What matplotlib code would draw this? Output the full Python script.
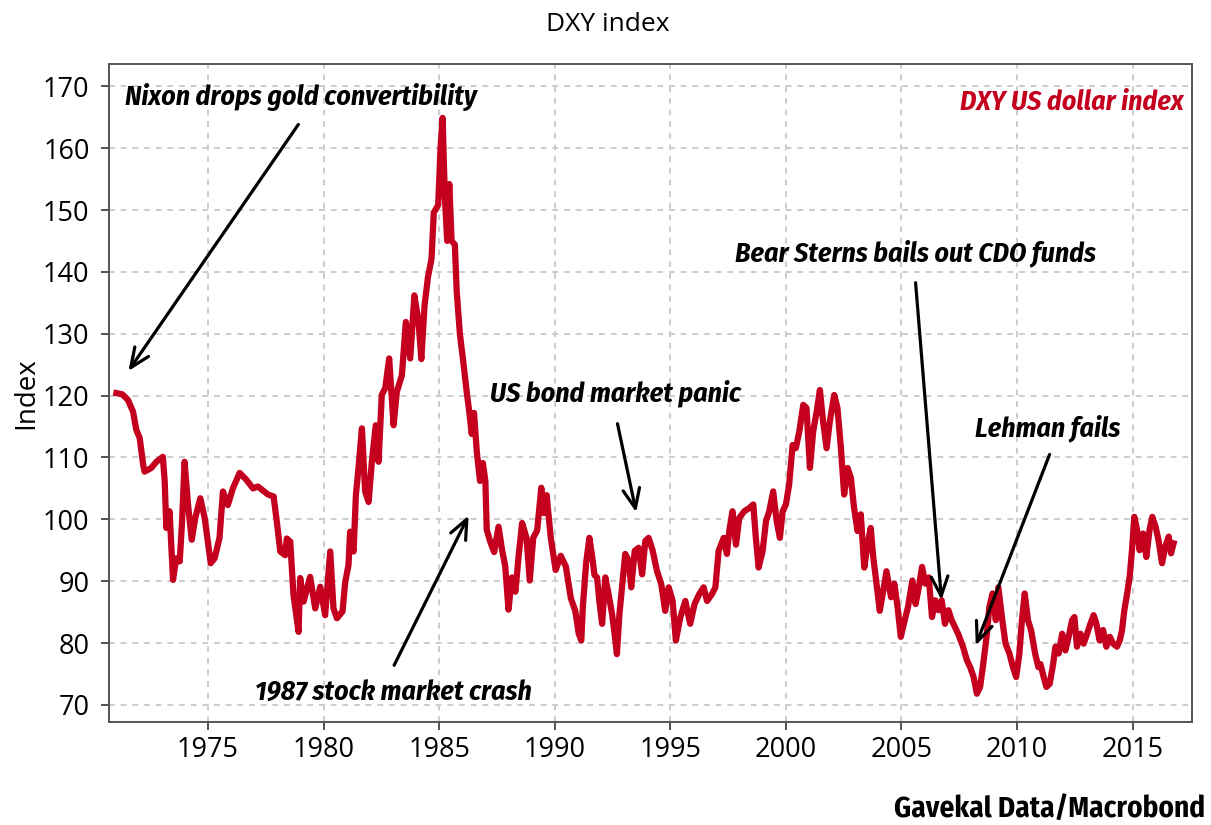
import matplotlib
matplotlib.use('Agg')
from matplotlib import pyplot as plt

# DXY US dollar index
years = [
    1971.04, 1971.30, 1971.54, 1971.76, 1971.90, 1972.05, 1972.20, 1972.26, 1972.55, 1972.77,
    1973.05, 1973.13, 1973.20, 1973.34, 1973.49, 1973.63, 1973.78, 1973.88, 1973.99, 1974.14,
    1974.30, 1974.45, 1974.67, 1974.86, 1975.12, 1975.29, 1975.50, 1975.65, 1975.86, 1976.08,
    1976.37, 1976.66, 1976.95, 1977.16, 1977.60, 1977.84, 1977.98, 1978.13, 1978.34, 1978.41,
    1978.56, 1978.70, 1978.92, 1978.99, 1979.14, 1979.42, 1979.64, 1979.86, 1980.07, 1980.29,
    1980.43, 1980.58, 1980.82, 1980.94, 1981.08, 1981.15, 1981.30, 1981.40, 1981.51, 1981.66,
    1981.80, 1981.95, 1982.09, 1982.26, 1982.38, 1982.52, 1982.67, 1982.84, 1983.03, 1983.17,
    1983.39, 1983.56, 1983.75, 1983.93, 1984.11, 1984.23, 1984.37, 1984.52, 1984.67, 1984.77,
    1984.96, 1985.06, 1985.15, 1985.25, 1985.35, 1985.44, 1985.54, 1985.68, 1985.76, 1985.90,
    1986.05, 1986.19, 1986.31, 1986.41, 1986.51, 1986.63, 1986.77, 1986.89, 1987.00, 1987.06,
    1987.21, 1987.38, 1987.57, 1987.72, 1987.86, 1988.00, 1988.15, 1988.30, 1988.44, 1988.59,
    1988.78, 1988.92, 1989.07, 1989.24, 1989.42, 1989.53, 1989.65, 1989.83, 1990.04, 1990.26,
    1990.48, 1990.70, 1990.89, 1991.04, 1991.15, 1991.22, 1991.36, 1991.50, 1991.62, 1991.72,
    1991.83, 1991.93, 1992.05, 1992.19, 1992.33, 1992.48, 1992.59, 1992.69, 1992.80, 1992.91,
    1993.05, 1993.20, 1993.31, 1993.46, 1993.63, 1993.78, 1993.92, 1994.06, 1994.24, 1994.42,
    1994.61, 1994.78, 1994.93, 1995.10, 1995.24, 1995.43, 1995.65, 1995.86, 1996.05, 1996.25,
    1996.44, 1996.59, 1996.80, 1996.95, 1997.09, 1997.31, 1997.45, 1997.55, 1997.69, 1997.84,
    1997.98, 1998.20, 1998.41, 1998.59, 1998.70, 1998.82, 1998.99, 1999.14, 1999.28, 1999.45,
    1999.60, 1999.74, 1999.86, 2000.00, 2000.14, 2000.29, 2000.43, 2000.58, 2000.75, 2000.89,
    2001.04, 2001.18, 2001.33, 2001.47, 2001.61, 2001.76, 2001.90, 2002.09, 2002.23, 2002.38,
    2002.52, 2002.67, 2002.81, 2002.95, 2003.10, 2003.24, 2003.39, 2003.53, 2003.67, 2003.78,
    2003.89, 2004.06, 2004.21, 2004.35, 2004.55, 2004.69, 2004.83, 2004.97, 2005.14, 2005.28,
    2005.47, 2005.61, 2005.75, 2005.89, 2006.03, 2006.18, 2006.32, 2006.46, 2006.60, 2006.74,
    2006.88, 2007.03, 2007.17, 2007.31, 2007.45, 2007.66, 2007.83, 2007.97, 2008.12, 2008.26,
    2008.40, 2008.54, 2008.68, 2008.80, 2008.94, 2009.08, 2009.19, 2009.36, 2009.50, 2009.67,
    2009.82, 2009.96, 2010.10, 2010.21, 2010.33, 2010.47, 2010.61, 2010.78, 2010.92, 2011.01,
    2011.15, 2011.27, 2011.41, 2011.56, 2011.66, 2011.80, 2011.95, 2012.09, 2012.23, 2012.38,
    2012.48, 2012.59, 2012.74, 2012.88, 2013.03, 2013.17, 2013.31, 2013.43, 2013.57, 2013.72,
    2013.86, 2014.01, 2014.15, 2014.32, 2014.44, 2014.54, 2014.64, 2014.76, 2014.87, 2014.97,
    2015.07, 2015.19, 2015.30, 2015.45, 2015.59, 2015.73, 2015.85, 2015.99, 2016.12, 2016.27,
    2016.41, 2016.56, 2016.66, 2016.77,
]
dxy = [
    120.4, 120.2, 119.3, 117.4, 114.5, 113.1, 108.8, 107.7, 108.3, 109.3,
    110.1, 106.1, 98.6, 101.3, 90.2, 93.7, 93.2, 99.6, 109.3, 102.3,
    96.7, 100.2, 103.4, 100.2, 92.9, 93.7, 97.0, 104.5, 102.3, 105.0,
    107.5, 106.4, 105.0, 105.3, 104.0, 103.7, 99.6, 94.8, 94.2, 96.9,
    96.4, 87.8, 81.8, 90.5, 86.7, 90.7, 85.6, 89.1, 84.5, 94.8,
    85.6, 84.0, 85.1, 89.9, 92.6, 98.0, 94.8, 103.9, 108.2, 114.7,
    104.5, 102.8, 109.3, 115.2, 109.3, 120.1, 121.2, 126.0, 115.2, 120.6,
    123.3, 131.9, 126.0, 136.2, 131.9, 125.9, 134.6, 139.2, 142.1, 149.6,
    150.8, 160.0, 164.9, 151.9, 145.0, 154.2, 145.0, 144.4, 136.9, 129.9,
    125.3, 120.7, 117.2, 113.8, 117.2, 110.9, 106.2, 109.1, 106.2, 98.3,
    96.4, 94.7, 98.8, 95.1, 92.4, 85.4, 90.6, 88.3, 94.1, 99.4,
    97.0, 90.1, 97.0, 98.2, 105.1, 101.0, 103.9, 97.0, 91.8, 94.1,
    92.4, 87.2, 85.2, 81.5, 80.4, 86.0, 93.0, 97.0, 94.0, 91.0,
    90.6, 86.8, 83.1, 90.6, 87.9, 84.7, 81.5, 78.2, 84.7, 89.0,
    94.4, 93.3, 89.0, 94.9, 95.4, 91.1, 96.5, 97.0, 94.9, 91.7,
    89.5, 85.2, 89.0, 86.8, 80.4, 84.1, 86.8, 83.1, 86.3, 87.9,
    89.0, 86.8, 87.9, 89.0, 94.9, 97.0, 94.4, 98.1, 101.3, 95.9,
    100.2, 101.3, 101.8, 102.4, 97.0, 92.2, 94.8, 99.7, 101.3, 104.5,
    99.7, 97.0, 101.3, 102.4, 105.6, 112.0, 111.5, 114.2, 118.5, 118.0,
    108.3, 114.2, 117.4, 120.9, 115.8, 111.5, 115.8, 120.1, 118.0, 111.5,
    104.0, 108.3, 106.7, 101.8, 98.1, 100.8, 92.2, 95.9, 98.6, 93.8,
    90.5, 85.2, 88.4, 91.6, 87.4, 89.6, 85.8, 81.0, 83.7, 85.8,
    90.1, 86.3, 89.0, 92.3, 89.6, 90.6, 84.2, 86.9, 85.3, 86.9,
    83.1, 85.3, 83.7, 82.6, 81.5, 79.4, 77.2, 76.1, 74.5, 71.8,
    72.9, 76.7, 81.0, 85.8, 88.0, 83.7, 89.0, 83.7, 79.9, 78.3,
    76.1, 74.5, 78.3, 83.7, 88.0, 83.7, 82.0, 78.3, 76.1, 76.6,
    74.5, 72.9, 73.4, 76.6, 79.4, 78.3, 81.5, 78.8, 81.0, 83.7,
    84.2, 79.4, 81.5, 79.9, 81.5, 83.1, 84.5, 83.1, 80.4, 82.1,
    79.4, 81.0, 79.9, 79.4, 80.4, 82.1, 85.3, 88.0, 90.7, 95.0,
    100.4, 98.3, 95.0, 97.7, 93.9, 98.3, 100.4, 98.8, 96.6, 92.9,
    95.6, 97.2, 94.5, 96.1,
]

x_ticks = [1975, 1980, 1985, 1990, 1995, 2000, 2005, 2010, 2015]
y_ticks = [70, 80, 90, 100, 110, 120, 130, 140, 150, 160, 170]

# (label, text position, arrow tail, arrow head)
events = [
    ('Nixon drops gold convertibility', (1971.41, 168.2), (1978.98, 164.2), (1971.49, 123.6)),
    ('1987 stock market crash', (1977.03, 72.1), (1983.0, 76.0), (1986.33, 101.0)),
    ('US bond market panic', (1987.19, 120.4), (1992.69, 115.9), (1993.55, 100.7)),
    ('Bear Sterns bails out CDO funds', (1997.79, 143.0), (2005.6, 138.7), (2006.74, 86.5)),
    ('Lehman fails', (2008.17, 114.7), (2011.45, 110.9), (2008.17, 79.2)),
]

RED = '#C4001E'
COND = ['Fira Sans Condensed', 'Roboto Condensed', 'Asap Condensed', 'DejaVu Sans']
plt.rcParams['font.family'] = ['Open Sans', 'DejaVu Sans']

fig = plt.figure(figsize=(12.11, 8.25), dpi=100)
ax = fig.add_axes([0.090, 0.125, 0.894, 0.797])

ax.plot(years, dxy, color=RED, lw=4.5, solid_joinstyle='round', zorder=3)

ax.set_xlim(1970.72, 2017.55)
ax.set_ylim(67.25, 173.55)
ax.set_xticks(x_ticks)
ax.set_yticks(y_ticks)
ax.tick_params(labelsize=19.5, length=6, width=1.3, color='#444444', direction='out')
ax.tick_params(axis='y', pad=8)
ax.tick_params(axis='x', pad=4)
ax.grid(True, color='#CCCCCC', lw=1.4, ls=(0, (3, 3)))
ax.set_axisbelow(True)
for s in ax.spines.values():
    s.set_color('#555555')
    s.set_linewidth(1.4)

ax.set_ylabel('Index', fontsize=20, labelpad=2)
fig.text(0.502, 0.970, 'DXY index', ha='center', va='center', fontsize=19)
fig.text(0.995, 0.018, 'Gavekal Data/Macrobond', ha='right', va='center',
         fontsize=21, fontweight='bold', family=COND)

ax.text(2017.2, 167.4, 'DXY US dollar index', color=RED, ha='right', va='center',
        fontsize=20, fontweight='bold', style='italic', family=COND)

for label, txt, tail, head in events:
    ax.text(txt[0], txt[1], label, ha='left', va='center', fontsize=20,
            fontweight='bold', style='italic', family=COND, zorder=5)
    ax.annotate('', xy=head, xytext=tail,
                arrowprops=dict(arrowstyle='->,head_length=1.4,head_width=0.6',
                                color='black', lw=2.3), zorder=5)

fig.savefig('out.png', dpi=100)
